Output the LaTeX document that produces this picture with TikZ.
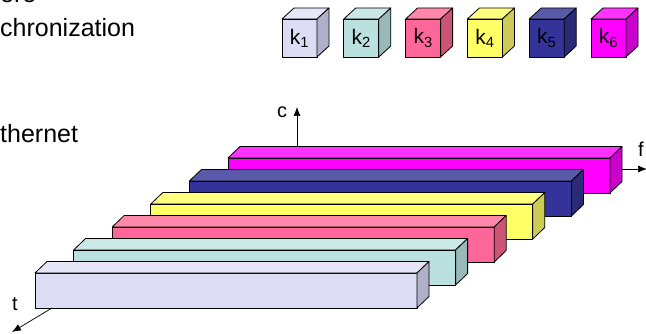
\documentclass[tikz,border=0pt]{standalone}
\usepackage{fontspec}
\setmainfont{Liberation Sans}
\usetikzlibrary{arrows.meta}
\definecolor{kfront1}{RGB}{220,220,245}\definecolor{ktop1}{RGB}{230,230,248}\definecolor{kside1}{RGB}{176,176,200}
\definecolor{kfront2}{RGB}{186,224,224}\definecolor{ktop2}{RGB}{202,232,232}\definecolor{kside2}{RGB}{153,184,184}
\definecolor{kfront3}{RGB}{255,102,153}\definecolor{ktop3}{RGB}{255,136,170}\definecolor{kside3}{RGB}{204,85,119}
\definecolor{kfront4}{RGB}{255,255,102}\definecolor{ktop4}{RGB}{255,255,128}\definecolor{kside4}{RGB}{204,204,85}
\definecolor{kfront5}{RGB}{51,51,153}\definecolor{ktop5}{RGB}{90,90,170}\definecolor{kside5}{RGB}{42,42,119}
\definecolor{kfront6}{RGB}{255,0,255}\definecolor{ktop6}{RGB}{255,51,255}\definecolor{kside6}{RGB}{204,0,204}
\tikzset{
  face/.style={draw=black, line width=0.8pt, line join=round},
  axis/.style={-{Latex[length=9pt,width=7pt]}, line width=0.7pt},
  axislbl/.style={font=\fontsize{20}{24}\selectfont, inner sep=0pt},
  slidetext/.style={font=\fontsize{25}{30}\selectfont, inner sep=0pt, anchor=base west},
}
% box with front face lower left (#1,#2), width #3, height #4, depth (#5,#6), colour #7
\newcommand{\prism}[7]{
  \fill[face, fill=kfront#7] (#1,#2) rectangle ++(#3,-#4);
  \fill[face, fill=ktop#7] (#1,#2-#4) -- ++(#5,-#6) -- ++(#3,0) -- ++(-#5,#6) -- cycle;
  \fill[face, fill=kside#7] (#1+#3,#2) -- ++(0,-#4) -- ++(#5,-#6) -- ++(0,#4) -- cycle;
}
\begin{document}
\begin{tikzpicture}[x=1pt,y=-1pt]
  \useasboundingbox (0,0) rectangle (646,334);
  % cut-off slide text
  \node[slidetext] (line0) at (0,3) {ere};
  \node[slidetext] (line1) at (0,37) {chronization};
  \node[slidetext] (line2) at (0,143) {thernet};
  % legend cubes
  \foreach \i in {1,...,6}{
    \pgfmathsetmacro{\cx}{282+61.8*(\i-1)}
    \prism{\cx}{57}{35}{38}{12}{11}{\i}
    \node[font=\fontsize{21}{24}\selectfont, text=black, inner sep=0pt] (key\i) at (\cx+17.5,38) {k\textsubscript{\i}};
  }
  % slabs, back to front
  \foreach \i in {6,5,...,1}{
    \pgfmathsetmacro{\bx}{35+38.6*(\i-1)}
    \pgfmathsetmacro{\by}{308-23*(\i-1)}
    \prism{\bx}{\by}{382}{35}{12}{11.5}{\i}
  }
  % axes
  \coordinate (c0) at (297,146);
  \coordinate (c1) at (297,107);
  \coordinate (f0) at (622,169);
  \coordinate (f1) at (647,169);
  \coordinate (t0) at (52,308);
  \coordinate (t1) at (12,332);
  \draw[axis] (c0) -- (c1);
  \draw[axis] (f0) -- (f1);
  \draw[axis] (t0) -- (t1);
  \node[axislbl] (clbl) at (282,112) {c};
  \node[axislbl] (flbl) at (641,149) {f};
  \node[axislbl] (tlbl) at (15,304) {t};
\end{tikzpicture}
\end{document}
